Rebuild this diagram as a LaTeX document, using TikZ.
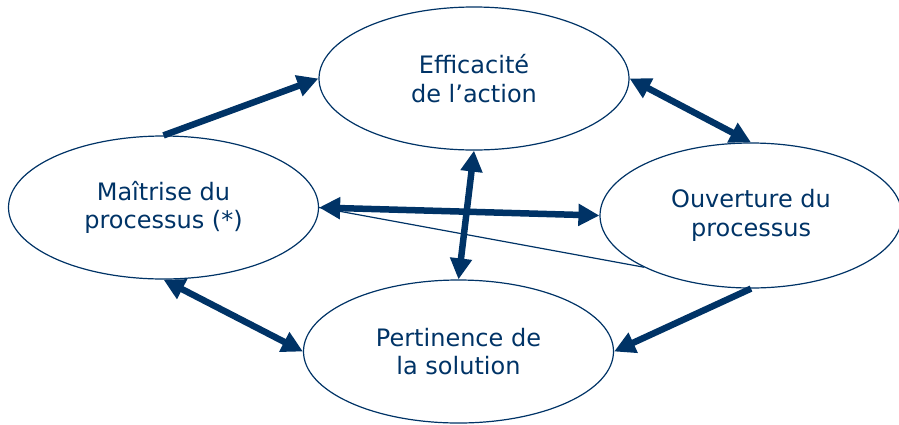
\documentclass[tikz,border=0pt]{standalone}
\usepackage{fontspec}
\setmainfont{DejaVu Sans}
\usetikzlibrary{shapes.geometric,arrows.meta}
\definecolor{navy}{HTML}{003366}
\begin{document}
\begin{tikzpicture}[x=1pt,y=-1pt,
  >={Triangle[length=21pt,width=21pt]},
  bub/.style={ellipse, draw=navy, line width=1.2pt, minimum width=310pt,
    minimum height=143pt, inner sep=0pt, align=center, text=navy,
    font=\fontsize{24}{28.5}\selectfont},
  link/.style={draw=navy, line width=6.5pt},
  thin/.style={draw=navy, line width=1.2pt}]
\useasboundingbox (0,0) rectangle (899,424);
\clip (0,0) rectangle (899,424);
\node[bub] (top) at (474,78.5) {Efficacité\\de l’action};
\node[bub] (left) at (163.5,207.5) {Maîtrise du\\processus (*)};
\node[bub, minimum width=302pt, minimum height=145pt] (right) at (751,215.5) {Ouverture du\\processus};
\node[bub] (bot) at (458.5,351.5) {Pertinence de\\la solution};
\draw[thin] (left.east) -- (right.south west);
\draw[link,->] (left.north) -- (top.west);
\draw[link,<->] (top.east) -- (right.north);
\draw[link,->] (right.south) -- (bot.east);
\draw[link,<->] (left.south) -- (bot.west);
\draw[link,<->] (left.east) -- (right.west);
\draw[link,<->] (top.south) -- (bot.north);
\end{tikzpicture}
\end{document}
